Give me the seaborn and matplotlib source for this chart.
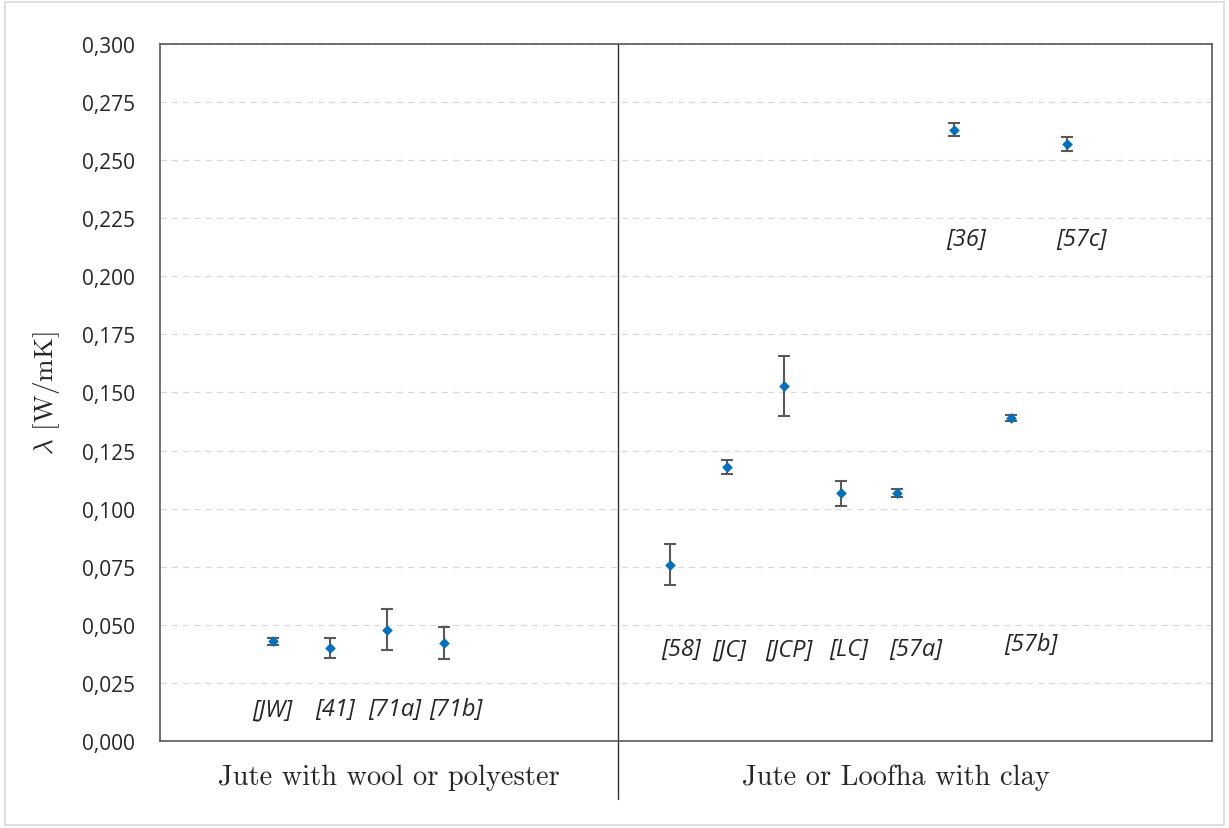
import numpy as np
import pandas as pd
import seaborn as sns
import matplotlib.pyplot as plt
from matplotlib.ticker import FuncFormatter, MultipleLocator
from matplotlib.patches import Rectangle

# data
refs = ['[JW]', '[41]', '[71a]', '[71b]',
        '[58]', '[JC]', '[JCP]', '[LC]', '[57a]', '[36]', '[57b]', '[57c]']
slot = [2, 3, 4, 5, 9, 10, 11, 12, 13, 14, 15, 16]
lam = [0.043, 0.040, 0.0478, 0.0422,
       0.0758, 0.118, 0.1528, 0.1067, 0.1067, 0.263, 0.139, 0.257]
err = [0.0015, 0.0045, 0.0088, 0.0068,
       0.0088, 0.003, 0.013, 0.0054, 0.0018, 0.0028, 0.0014, 0.003]
groups = ['Jute with wool or polyester', 'Jute or Loofha with clay']

# where the reference labels sit
lab_x = [1.98, 3.09, 4.14, 5.22, 9.19, 10.04, 11.08, 12.15, 13.33, 14.21, 15.36, 16.24]
lab_y = [0.0138, 0.0138, 0.0138, 0.0138, 0.0396, 0.0396, 0.0396, 0.0396, 0.0396,
         0.216, 0.0417, 0.216]

df = pd.DataFrame({'ref': refs, 'x': slot, 'lam': lam, 'err': err})

sns.set_style('white')
plt.rcParams['mathtext.fontset'] = 'cm'

fig = plt.figure(figsize=(12.29, 8.29), dpi=100)
ax = fig.add_axes([0.1302, 0.105, 0.8560, 0.8407])

ax.errorbar(df['x'], df['lam'], yerr=df['err'], fmt='none', ecolor='#595959',
            elinewidth=1.5, capsize=4.5, capthick=1.5, zorder=2)
sns.scatterplot(data=df, x='x', y='lam', marker='D', s=24, color='#0070C0',
                edgecolor='#0070C0', linewidth=0.5, ax=ax, zorder=3)

ax.set_xlim(0, 18.55)
ax.set_ylim(0, 0.3)
ax.yaxis.set_major_locator(MultipleLocator(0.025))
ax.yaxis.set_major_formatter(FuncFormatter(lambda v, p: f'{v:.3f}'.replace('.', ',')))
ax.set_xticks([])
ax.set_xlabel('')
ax.set_ylabel(r'$\lambda$ [W/mK]', family='cmr10', fontsize=19.5, labelpad=14)
ax.tick_params(axis='y', labelsize=15, length=0, pad=18)
for t in ax.get_yticklabels():
    t.set_family('Open Sans')
    t.set_color('#262626')
ax.grid(axis='y', color='#d9d9d9', linestyle=(0, (5, 4)), linewidth=0.9)
ax.set_axisbelow(True)
for s in ax.spines.values():
    s.set_color('#595959')
    s.set_linewidth(1.2)

for r, xx, yy in zip(refs, lab_x, lab_y):
    ax.text(xx, yy, r, ha='center', va='center', fontsize=17, style='italic',
            family='Open Sans', color='#262626')

# divider between the two groups, running below the axis
ax.plot([8.07, 8.07], [-0.083, 1], transform=ax.get_xaxis_transform(), color='#333333',
        linewidth=1, clip_on=False)
ax.text(4.04, -0.052, groups[0], transform=ax.get_xaxis_transform(), ha='center',
        va='center', family='cmr10', fontsize=20.5)
ax.text(12.98, -0.052, groups[1], transform=ax.get_xaxis_transform(), ha='center',
        va='center', family='cmr10', fontsize=20.5)

fig.patches.append(Rectangle((0.004, 0.004), 0.992, 0.992, transform=fig.transFigure,
                             fill=False, edgecolor='#d9d9d9', linewidth=1.2))

fig.savefig('out.png', dpi=100)
